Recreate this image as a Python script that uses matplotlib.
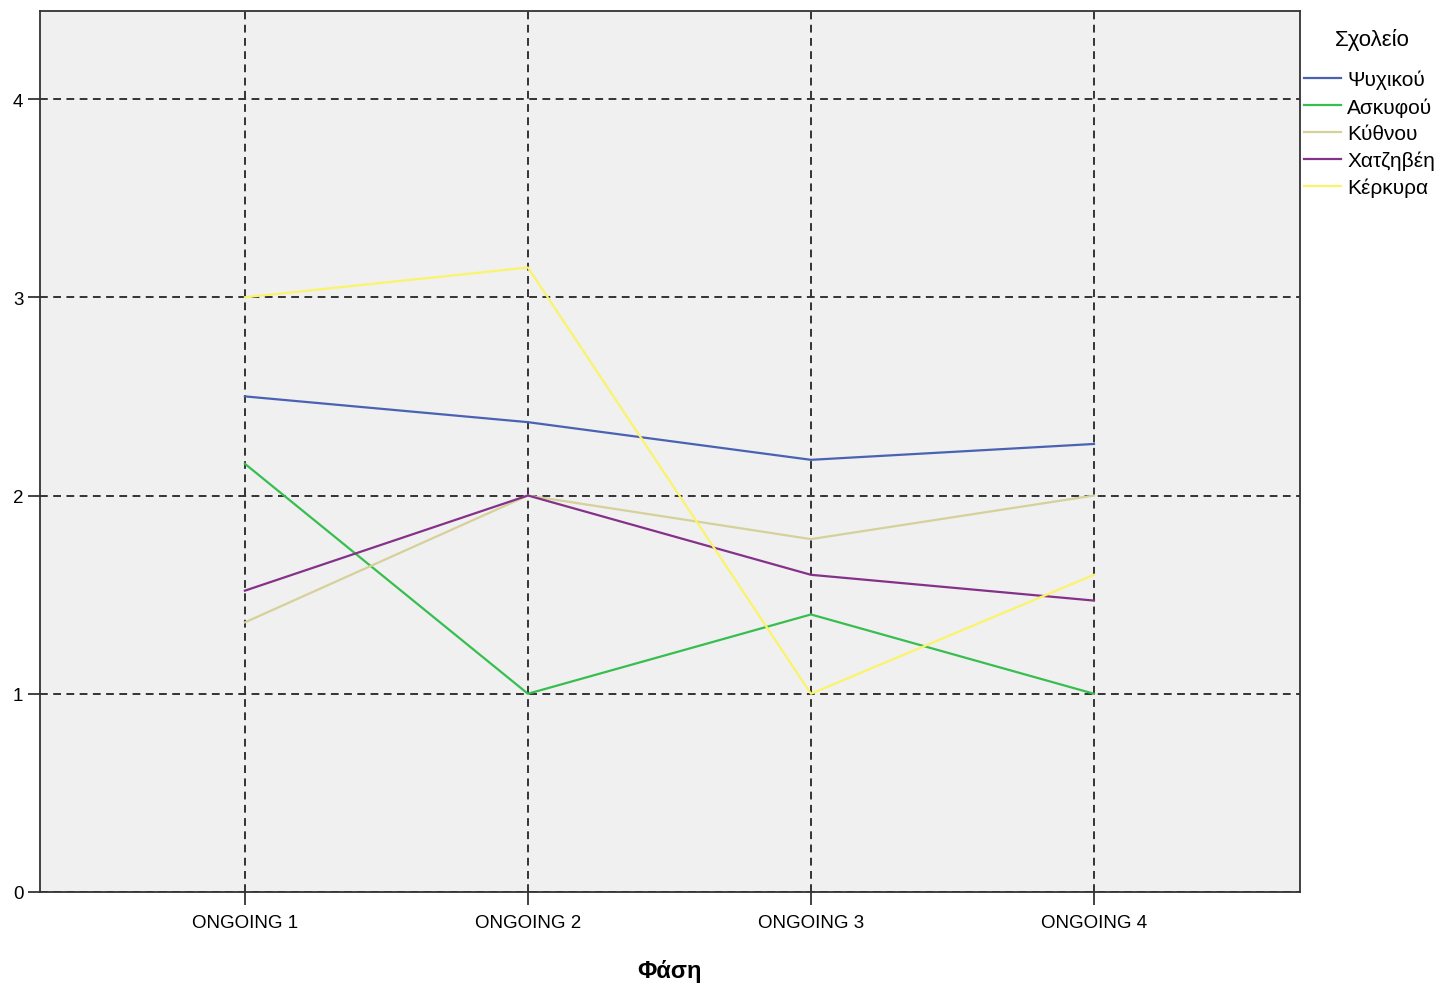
import matplotlib.pyplot as plt
import numpy as np

plt.rcParams['font.family'] = ['Liberation Sans', 'DejaVu Sans']

# data
phases = ['ONGOING 1', 'ONGOING 2', 'ONGOING 3', 'ONGOING 4']
schools = ['Ψυχικού', 'Ασκυφού', 'Κύθνου', 'Χατζηβέη', 'Κέρκυρα']
psychikou = [2.50, 2.37, 2.18, 2.26]
askyfou = [2.16, 1.00, 1.40, 1.00]
kythnou = [1.36, 2.00, 1.78, 2.00]
chatzivei = [1.52, 2.00, 1.60, 1.47]
kerkyra = [3.00, 3.15, 1.00, 1.60]
colors = ['#4A62B4', '#36BE4E', '#D6D09A', '#85318A', '#FAF46A']

series = [psychikou, askyfou, kythnou, chatzivei, kerkyra]

W, H = 1446, 987
fig = plt.figure(figsize=(W / 100, H / 100), dpi=100)
ax = fig.add_axes([40/W, 94/H, 1260/W, 881/H])
ax.set_facecolor('#F0F0F0')

x = np.arange(len(phases))
for vals, name, c in zip(series, schools, colors):
    ax.plot(x, vals, color=c, lw=1.6, label=name, zorder=3)

ax.set_xlim(-0.724, 3.728)
ax.set_ylim(0, 4.444)
ax.set_xticks(x)
ax.set_xticklabels(phases, fontsize=13.5)
ax.set_yticks([0, 1, 2, 3, 4])
ax.set_yticklabels(['0', '1', '2', '3', '4'], fontsize=13.5)
ax.tick_params(direction='out', length=9, width=1.2, color='#222222')
ax.tick_params(axis='x', pad=7)
ax.tick_params(axis='y', pad=3)
ax.grid(True, color='#333333', linestyle=(0, (4, 2.8)), lw=1.4, zorder=1)
ax.set_axisbelow(True)
for s in ax.spines.values():
    s.set_color('#333333')
    s.set_linewidth(1.3)

ax.set_xlabel('Φάση', fontsize=17, fontweight='bold', labelpad=20)

# legend title drawn separately so the gap above the entries matches
fig.text(1372/W, 1 - 40/H, 'Σχολείο', fontsize=16, ha='center', va='center')
leg = fig.legend(loc='upper left', bbox_to_anchor=(1304/W, 1 - 71/H),
                 frameon=False, fontsize=15, handlelength=1.78,
                 handletextpad=0.29, labelspacing=0.36,
                 borderaxespad=0, borderpad=0)

fig.savefig('out.png', dpi=100)
